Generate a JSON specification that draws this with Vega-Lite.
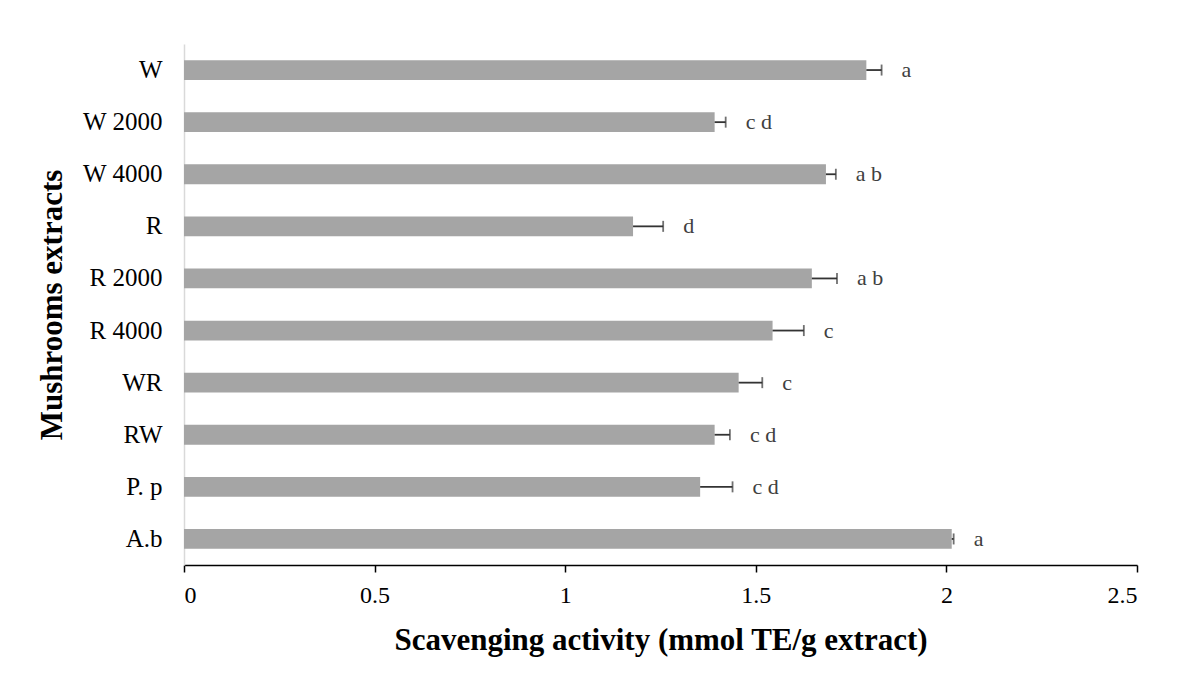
{
  "$schema": "https://vega.github.io/schema/vega-lite/v6.json",
  "width": 953,
  "height": 521,
  "autosize": {"type": "none"},
  "padding": {"left": 184, "top": 44, "right": 41, "bottom": 112},
  "background": "white",
  "config": {
    "view": {"stroke": null},
    "font": "Liberation Serif",
    "axis": {"labelFont": "Liberation Serif", "titleFont": "Liberation Serif"}
  },
  "data": {
    "values": [
      {"extract": "W", "activity": 1.79, "sd": 0.04, "group": "a"},
      {"extract": "W 2000", "activity": 1.392, "sd": 0.029, "group": "c d"},
      {"extract": "W 4000", "activity": 1.684, "sd": 0.026, "group": "a b"},
      {"extract": "R", "activity": 1.178, "sd": 0.079, "group": "d"},
      {"extract": "R 2000", "activity": 1.647, "sd": 0.066, "group": "a b"},
      {"extract": "R 4000", "activity": 1.544, "sd": 0.082, "group": "c"},
      {"extract": "WR", "activity": 1.455, "sd": 0.062, "group": "c"},
      {"extract": "RW", "activity": 1.392, "sd": 0.04, "group": "c d"},
      {"extract": "P. p", "activity": 1.354, "sd": 0.085, "group": "c d"},
      {"extract": "A.b", "activity": 2.014, "sd": 0.005, "group": "a"}
    ]
  },
  "transform": [{"calculate": "datum.activity + datum.sd", "as": "upper"}],
  "encoding": {
    "y": {
      "field": "extract",
      "type": "nominal",
      "sort": null,
      "scale": {"paddingInner": 0.62, "paddingOuter": 0.31},
      "axis": {
        "title": "Mushrooms extracts",
        "titleFontSize": 31,
        "titleFontWeight": "bold",
        "titleColor": "black",
        "titlePadding": 14,
        "labelFontSize": 25,
        "labelColor": "black",
        "labelPadding": 22,
        "ticks": false,
        "domainColor": "#d9d9d9",
        "domainWidth": 1.5
      }
    }
  },
  "layer": [
    {
      "mark": {"type": "bar", "color": "#a5a5a5"},
      "encoding": {
        "x": {
          "field": "activity",
          "type": "quantitative",
          "scale": {"domain": [0, 2.5], "nice": false},
          "axis": {
            "title": "Scavenging activity (mmol TE/g extract)",
            "titleFontSize": 31,
            "titleFontWeight": "bold",
            "titleColor": "black",
            "titlePadding": 18,
            "values": [0, 0.5, 1, 1.5, 2, 2.5],
            "format": "~g",
            "labelFontSize": 24,
            "labelColor": "black",
            "labelPadding": 11,
            "grid": false,
            "domainColor": "black",
            "domainWidth": 1.5,
            "tickColor": "black",
            "tickWidth": 1.5,
            "tickSize": 7
          }
        }
      }
    },
    {
      "mark": {"type": "rule", "color": "#333333", "strokeWidth": 1.8},
      "encoding": {
        "x": {"field": "activity", "type": "quantitative"},
        "x2": {"field": "upper"}
      }
    },
    {
      "mark": {"type": "tick", "color": "#333333", "thickness": 1.8, "size": 11},
      "encoding": {"x": {"field": "upper", "type": "quantitative"}}
    },
    {
      "mark": {
        "type": "text",
        "align": "left",
        "baseline": "middle",
        "dx": 20,
        "fontSize": 22,
        "color": "#404040",
        "font": "Liberation Serif"
      },
      "encoding": {
        "x": {"field": "upper", "type": "quantitative"},
        "text": {"field": "group"}
      }
    }
  ]
}
